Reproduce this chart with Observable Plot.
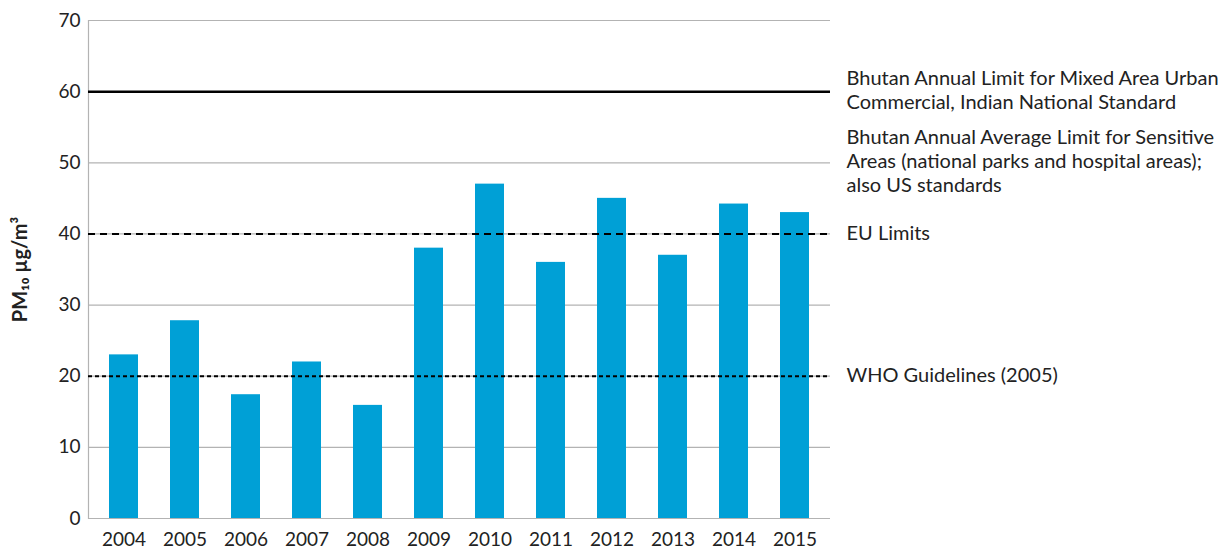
<!DOCTYPE html>
<html>
<head>
<meta charset="utf-8">
<script src="https://cdn.jsdelivr.net/npm/d3@7"></script>
<script src="https://cdn.jsdelivr.net/npm/@observablehq/plot@0.6"></script>
<style>
  html, body { margin: 0; padding: 0; background: #fff; }
  #chart svg { font-family: Lato, "Open Sans", sans-serif; }
</style>
</head>
<body>
<div id="chart"></div>
<script>
const years = ["2004","2005","2006","2007","2008","2009","2010","2011","2012","2013","2014","2015"];
const pm10 = [23, 27.8, 17.4, 22, 15.9, 38, 47, 36, 45, 37, 44.2, 43];
const yTicks = [0, 10, 20, 30, 40, 50, 60, 70];
const limitValues = [60, 50, 40, 20];
const limitLabels = [
  "Bhutan Annual Limit for Mixed Area Urban\nCommercial, Indian National Standard",
  "Bhutan Annual Average Limit for Sensitive\nAreas (national parks and hospital areas);\nalso US standards",
  "EU Limits",
  "WHO Guidelines (2005)"
];

const bars = years.map((y, i) => ({year: y, value: pm10[i]}));
const labels = limitValues.map((v, i) => ({value: v, text: limitLabels[i]}));

const chart = Plot.plot({
  width: 1229,
  height: 550,
  marginLeft: 88,
  marginRight: 399,
  marginTop: 20,
  marginBottom: 32,
  style: {fontSize: "19px", color: "#222", background: "#fff"},
  x: {domain: years, paddingInner: 0.53, paddingOuter: 0.265, label: null},
  y: {domain: [0, 70], ticks: yTicks, label: null},
  marks: [
    Plot.gridY(yTicks, {stroke: "#b3b3b3", strokeOpacity: 1, strokeWidth: 1.2}),
    Plot.frame({anchor: "left", stroke: "#b3b3b3", strokeWidth: 1.2}),
    Plot.barY(bars, {x: "year", y: "value", fill: "#00a0d6"}),
    Plot.ruleY([limitValues[0]], {stroke: "#000", strokeWidth: 2.5}),
    Plot.ruleY([limitValues[2]], {stroke: "#000", strokeWidth: 2, strokeDasharray: "7,5"}),
    Plot.ruleY([limitValues[3]], {stroke: "#000", strokeWidth: 2, strokeDasharray: "4,3"}),
    Plot.axisY(yTicks, {tickSize: 0, tickPadding: 8, fontSize: 19, label: null}),
    Plot.axisX({tickSize: 0, tickPadding: 14, fontSize: 19, label: null}),
    Plot.text(labels, {
      y: "value", text: "text", frameAnchor: "right", dx: 16, dy: -2,
      textAnchor: "start", lineAnchor: "middle", lineHeight: 1.2,
      fontSize: 20, fill: "#222"
    }),
    Plot.text(["PM₁₀ µg/m³"], {
      text: d => d, frameAnchor: "left", dx: -68, rotate: -90, textAnchor: "middle",
      fontSize: 20, fontWeight: "bold", fill: "#222"
    })
  ]
});
document.getElementById("chart").appendChild(chart);
</script>
</body>
</html>
